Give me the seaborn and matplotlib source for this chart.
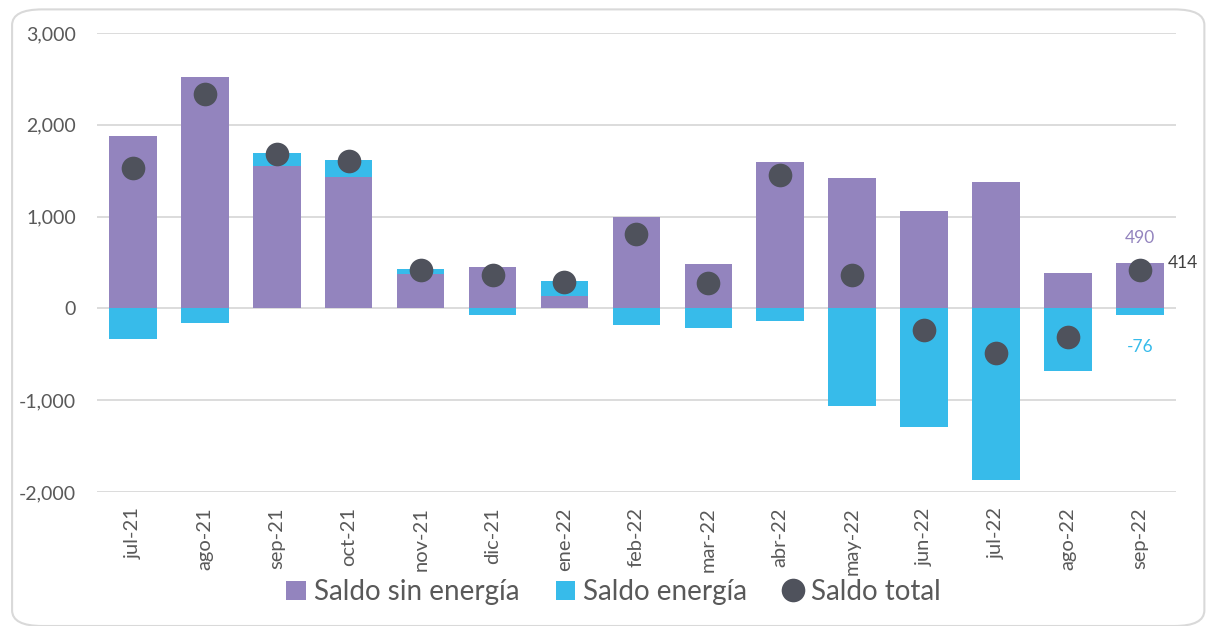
import numpy as np
import pandas as pd
import matplotlib
matplotlib.use("Agg")
import matplotlib.pyplot as plt
from matplotlib.patches import FancyBboxPatch, Patch
from matplotlib.lines import Line2D
import seaborn as sns

months = ["jul-21", "ago-21", "sep-21", "oct-21", "nov-21", "dic-21", "ene-22",
          "feb-22", "mar-22", "abr-22", "may-22", "jun-22", "jul-22", "ago-22", "sep-22"]
saldo_sin_energia = [1873, 2525, 1554, 1428, 370, 449, 130,
                     1000, 486, 1598, 1424, 1058, 1377, 391, 490]
saldo_energia = [-330, -163, 134, 192, 58, -76, 167,
                 -181, -214, -134, -1060, -1290, -1865, -678, -76]
saldo_total = [1533, 2333, 1681, 1609, 420, 362, 293,
               812, 272, 1453, 362, -237, -488, -306, 414]
y_ticks = [-2000, -1000, 0, 1000, 2000, 3000]

PURPLE = "#9384BE"
CYAN = "#37BBEA"
DARK = "#4F525C"
GRID = "#D9D9D9"
TXT = "#595959"

sns.set_theme(style="white")
plt.rcParams["font.family"] = ["Lato", "DejaVu Sans"]

df = pd.DataFrame({
    "mes": months,
    "sin": saldo_sin_energia,
    "ene": saldo_energia,
    "tot": saldo_total,
})
# cyan drawn first: stacked on purple when positive, from zero when negative
df["cyan_h"] = np.where(df["ene"] > 0, df["sin"] + df["ene"], df["ene"])

fig = plt.figure(figsize=(12.08, 6.26), dpi=100)
ax = fig.add_axes([0.0803, 0.214, 0.893, 0.7333])

# rounded border
fig.patches.append(FancyBboxPatch((0.010, 0.0), 0.987, 0.985, boxstyle="round,pad=0,rounding_size=0.025",
                                  transform=fig.transFigure, facecolor="none",
                                  edgecolor=GRID, linewidth=1.5, zorder=0))

for yv in y_ticks:
    ax.axhline(yv, color=GRID, linewidth=1.3, zorder=0)

sns.barplot(data=df, x="mes", y="cyan_h", color=CYAN, saturation=1, width=0.66,
            linewidth=0, ax=ax, zorder=2, order=months)
sns.barplot(data=df, x="mes", y="sin", color=PURPLE, saturation=1, width=0.66,
            linewidth=0, ax=ax, zorder=3, order=months)
sns.scatterplot(x=np.arange(len(months)), y=df["tot"], color=DARK, s=290,
                linewidth=0, ax=ax, zorder=4, legend=False)

ax.set_xlim(-0.5, len(months) - 0.5)
ax.set_ylim(y_ticks[0], y_ticks[-1])
ax.set_yticks(y_ticks)
ax.set_yticklabels([f"{v:,}" for v in y_ticks], fontsize=14, color=TXT)
ax.set_xticks(np.arange(len(months)))
ax.set_xticklabels(months, rotation=90, fontsize=14.5, color=TXT)
ax.tick_params(axis="x", length=0, pad=11)
ax.tick_params(axis="y", length=0, pad=15)
ax.set_xlabel("")
ax.set_ylabel("")
for s in ax.spines.values():
    s.set_visible(False)

# annotations on the last bar
i = len(months) - 1
ax.annotate(f"{saldo_sin_energia[i]}", (i, saldo_sin_energia[i]), xytext=(0, 18),
            textcoords="offset points", ha="center", va="center", color=PURPLE, fontsize=12.5)
ax.annotate(f"{saldo_energia[i]}", (i, saldo_energia[i]), xytext=(0, -23),
            textcoords="offset points", ha="center", va="center", color=CYAN, fontsize=12.5)
ax.annotate(f"{saldo_total[i]}", (i, saldo_total[i]), xytext=(20, 5),
            textcoords="offset points", ha="left", va="center", color="#404040", fontsize=12.5)

handles = [
    Patch(facecolor=PURPLE, edgecolor="none"),
    Patch(facecolor=CYAN, edgecolor="none"),
    Line2D([], [], marker="o", linestyle="none", markersize=17, markerfacecolor=DARK,
           markeredgewidth=0),
]
fig.legend(handles, ["Saldo sin energía", "Saldo energía", "Saldo total"],
           loc="center", bbox_to_anchor=(0.508, 0.054), ncol=3, frameon=False,
           fontsize=20, labelcolor=TXT, handlelength=0.7, handleheight=0.7,
           handletextpad=0.3, columnspacing=1.3)

fig.savefig("out.png", dpi=100, facecolor="white")
